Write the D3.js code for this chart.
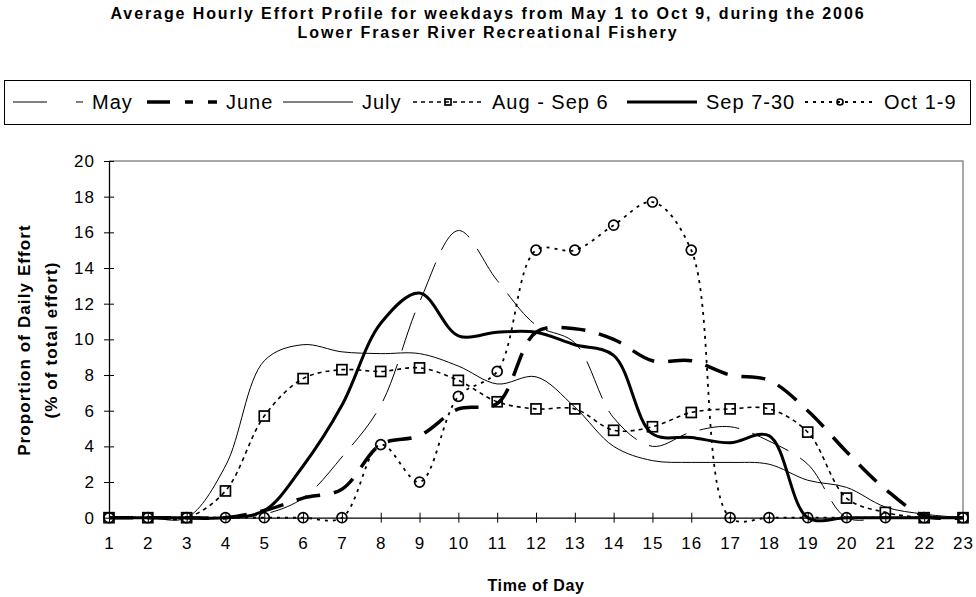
<!DOCTYPE html>
<html>
<head>
<meta charset="utf-8">
<script src="https://cdn.jsdelivr.net/npm/d3@7"></script>
<style>
  body { margin: 0; background: #fff; }
  svg { display: block; font-family: Arial, "Liberation Sans", sans-serif; }
</style>
</head>
<body>
<div id="chart"></div>
<script>
// DATA ///////////////////////////////////////////////////////////////////////
const hours = [1, 2, 3, 4, 5, 6, 7, 8, 9, 10, 11, 12, 13, 14, 15, 16, 17, 18, 19, 20, 21, 22, 23];
const yTicks = [0, 2, 4, 6, 8, 10, 12, 14, 16, 18, 20];
const seriesNames = ["May", "June", "July", "Aug - Sep 6", "Sep 7-30", "Oct 1-9"];

const may    = [0, 0, 0, 0, 0.2, 1.1, 3.4, 6.3, 12.1, 16.1, 13.3, 10.8, 9.8, 5.6, 4.0, 4.8, 5.1, 4.3, 3.0, 0, 0, 0, 0];
const june   = [0, 0, 0, 0, 0.4, 1.1, 1.6, 4.1, 4.6, 6.1, 6.4, 10.4, 10.6, 10.0, 8.8, 8.8, 8.0, 7.7, 6.0, 3.7, 1.6, 0.1, 0];
const july   = [0, 0, 0, 2.9, 8.8, 9.7, 9.3, 9.2, 9.2, 8.5, 7.5, 7.9, 6.2, 4.0, 3.2, 3.1, 3.1, 3.0, 2.1, 1.7, 0.6, 0.2, 0];
const augSep = [0, 0, 0, 1.5, 5.7, 7.8, 8.3, 8.2, 8.4, 7.7, 6.5, 6.1, 6.1, 4.9, 5.1, 5.9, 6.1, 6.1, 4.8, 1.1, 0.3, 0, 0];
const sepEnd = [0, 0, 0, 0, 0.4, 2.9, 6.3, 10.9, 12.6, 10.2, 10.4, 10.4, 9.7, 9.1, 4.7, 4.5, 4.2, 4.6, 0, 0, 0, 0, 0];
const oct    = [0, 0, 0, 0, 0, 0, 0, 4.1, 2.0, 6.8, 8.2, 15.0, 15.0, 16.4, 17.7, 15.0, 0, 0, 0, 0, 0, 0, 0];

const seriesValues = [may, june, july, augSep, sepEnd, oct];

// line look for each series, same order as seriesNames
const looks = [
    {width: 1,   dash: "40,14", legendDash: "34,29"},
    {width: 3.5, dash: "24,14", legendDash: "23,15,8,15"},
    {width: 1,   dash: null,    legendDash: null},
    {width: 1.6, dash: "4,4",   legendDash: "4,4", marker: "square"},
    {width: 3,   dash: null,    legendDash: null},
    {width: 1.8, dash: "3,5",   legendDash: "3,5", marker: "circle"}
];
// left end of each legend sample line
const legendX = [13, 147, 283, 413, 627, 805];

// CHART //////////////////////////////////////////////////////////////////////
const W = 976, H = 597;
const plot = {left: 109, right: 963, top: 161, bottom: 517.7};

const svg = d3.select("#chart").append("svg")
    .attr("width", W)
    .attr("height", H);

const x = d3.scaleLinear().domain([1, 23]).range([plot.left, plot.right]);
const y = d3.scaleLinear().domain([0, 20]).range([plot.bottom, plot.top]);

// title
const title = svg.append("text")
    .attr("text-anchor", "middle")
    .attr("font-weight", "bold")
    .attr("font-size", 16)
    .attr("letter-spacing", 1.9);
title.append("tspan").attr("x", W / 2).attr("y", 18.5)
    .text("Average Hourly Effort Profile for weekdays from May 1 to Oct 9, during the 2006");
title.append("tspan").attr("x", W / 2).attr("y", 37.5)
    .text("Lower Fraser River Recreational Fishery");

// plot area border (top and right are grey)
svg.append("path")
    .attr("d", `M${plot.left},${plot.top}H${plot.right}V${plot.bottom}`)
    .attr("fill", "none")
    .attr("stroke", "#8c8c8c")
    .attr("stroke-width", 1.5);

// axes with cross tick marks
const yAxis = svg.append("g")
    .attr("transform", `translate(${plot.left},0)`)
    .call(d3.axisLeft(y).tickValues(yTicks).tickSizeInner(5).tickSizeOuter(0).tickPadding(9));
svg.append("g")
    .attr("transform", `translate(${plot.left},0)`)
    .call(d3.axisRight(y).tickValues(yTicks).tickSize(5).tickFormat(""))
    .select(".domain").remove();

const xAxis = svg.append("g")
    .attr("transform", `translate(0,${plot.bottom})`)
    .call(d3.axisBottom(x).tickValues(hours).tickSizeInner(5).tickSizeOuter(0).tickPadding(14));
svg.append("g")
    .attr("transform", `translate(0,${plot.bottom})`)
    .call(d3.axisTop(x).tickValues(hours).tickSize(5).tickFormat(""))
    .select(".domain").remove();

svg.selectAll(".tick line").attr("stroke", "#000");
svg.selectAll(".domain").attr("stroke", "#000").attr("stroke-width", 1.3);
[yAxis, xAxis].forEach(function(g) {
    g.selectAll("text")
        .attr("font-size", 17)
        .attr("font-family", "Arial, 'Liberation Sans', sans-serif")
        .attr("letter-spacing", 1)
        .attr("fill", "#000");
});

// axis titles
const yTitle = svg.append("text")
    .attr("transform", "translate(0,340) rotate(-90)")
    .attr("text-anchor", "middle")
    .attr("font-weight", "bold")
    .attr("font-size", 17)
    .attr("letter-spacing", 1.1);
yTitle.append("tspan").attr("x", 0).attr("y", 30).text("Proportion of Daily Effort");
yTitle.append("tspan").attr("x", 0).attr("y", 57).text("(% of total effort)");

svg.append("text")
    .attr("x", (plot.left + plot.right) / 2)
    .attr("y", 591)
    .attr("text-anchor", "middle")
    .attr("font-weight", "bold")
    .attr("font-size", 16)
    .attr("letter-spacing", 0.6)
    .text("Time of Day");

// series
const line = d3.line()
    .x(function(d, i) { return x(hours[i]); })
    .y(function(d) { return y(d); })
    .curve(d3.curveCatmullRom.alpha(0.5));

function drawMarker(g, kind, cx, cy, size) {
    if (kind === "square") {
        g.append("rect")
            .attr("x", cx - size / 2).attr("y", cy - size / 2)
            .attr("width", size).attr("height", size)
            .attr("fill", "none").attr("stroke", "#000").attr("stroke-width", 1.7);
    } else if (kind === "circle") {
        g.append("circle")
            .attr("cx", cx).attr("cy", cy).attr("r", size / 2)
            .attr("fill", "none").attr("stroke", "#000").attr("stroke-width", 1.7);
    }
}

seriesValues.forEach(function(vals, s) {
    const look = looks[s];
    const g = svg.append("g");
    g.append("path")
        .attr("d", line(vals))
        .attr("fill", "none")
        .attr("stroke", "#000")
        .attr("stroke-width", look.width)
        .attr("stroke-dasharray", look.dash);
    if (look.marker) {
        vals.forEach(function(v, i) {
            drawMarker(g, look.marker, x(hours[i]), y(v), 10);
        });
    }
});

// legend
const legend = svg.append("g");
legend.append("rect")
    .attr("x", 4.5).attr("y", 80.5)
    .attr("width", 966).attr("height", 44)
    .attr("fill", "#fff").attr("stroke", "#000");

const legendY = 102;
const sampleLen = 70;
seriesNames.forEach(function(name, s) {
    const look = looks[s];
    const x0 = legendX[s];
    legend.append("line")
        .attr("x1", x0).attr("x2", x0 + sampleLen)
        .attr("y1", legendY).attr("y2", legendY)
        .attr("stroke", "#000")
        .attr("stroke-width", look.width)
        .attr("stroke-dasharray", look.legendDash);
    if (look.marker) {
        drawMarker(legend, look.marker, x0 + sampleLen / 2, legendY, 6);
    }
    legend.append("text")
        .attr("x", x0 + sampleLen + 9)
        .attr("y", legendY + 7)
        .attr("font-size", 20)
        .attr("letter-spacing", 1)
        .text(name);
});
</script>
</body>
</html>
